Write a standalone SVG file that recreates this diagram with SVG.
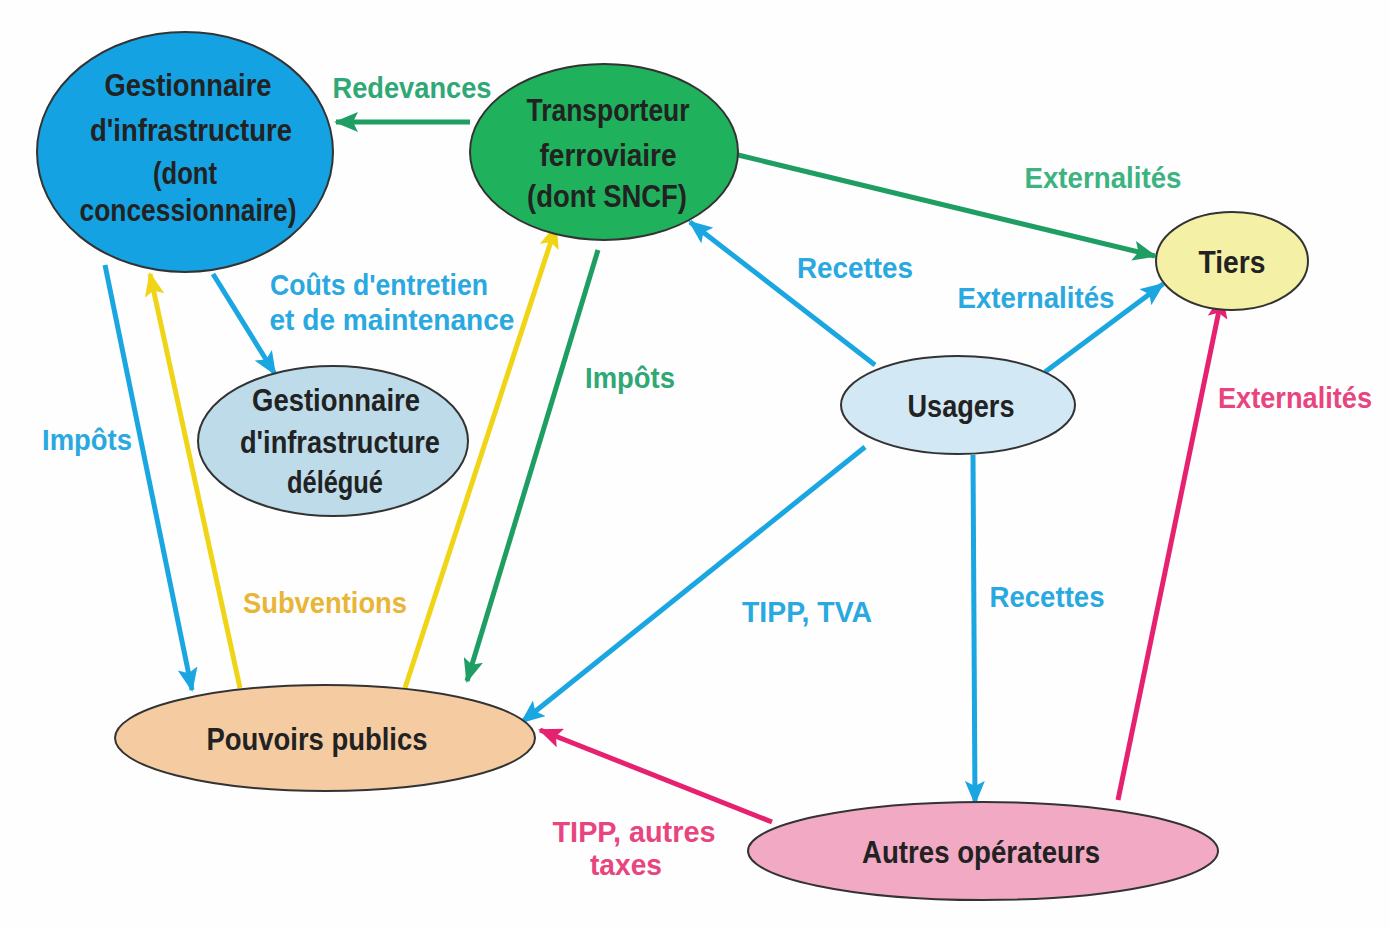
<svg xmlns="http://www.w3.org/2000/svg" width="1389" height="929" viewBox="0 0 1389 929">
<style>
.node{stroke:#333;stroke-width:2}
.nt{font-family:"Liberation Sans",Arial,sans-serif;font-weight:bold;font-size:32px;fill:#222;text-anchor:middle}
.lb{font-family:"Liberation Sans",Arial,sans-serif;font-weight:bold;font-size:30px;text-anchor:middle}
.c{fill:none;stroke-width:5}
.blue{stroke:#1aa6e0}
.green{stroke:#1e9e62}
.yellow{stroke:#f0d516}
.pink{stroke:#e62170}
</style>
<defs>
<marker id="ab" markerUnits="userSpaceOnUse" markerWidth="24" markerHeight="20" refX="22" refY="10" orient="auto"><path d="M0,0 L24,10 L0,20 L5,10 Z" fill="#1aa6e0"/></marker>
<marker id="ag" markerUnits="userSpaceOnUse" markerWidth="24" markerHeight="20" refX="22" refY="10" orient="auto"><path d="M0,0 L24,10 L0,20 L5,10 Z" fill="#1e9e62"/></marker>
<marker id="ay" markerUnits="userSpaceOnUse" markerWidth="24" markerHeight="20" refX="22" refY="10" orient="auto"><path d="M0,0 L24,10 L0,20 L5,10 Z" fill="#f0d516"/></marker>
<marker id="ap" markerUnits="userSpaceOnUse" markerWidth="24" markerHeight="20" refX="22" refY="10" orient="auto"><path d="M0,0 L24,10 L0,20 L5,10 Z" fill="#e62170"/></marker>
</defs>
<rect width="1389" height="929" fill="#fefefe"/>
<g id="connectors">
<line class="c green" x1="470" y1="122" x2="336" y2="122" marker-end="url(#ag)"/>
<line class="c green" x1="738" y1="155" x2="1155" y2="256" marker-end="url(#ag)"/>
<line class="c blue" x1="875" y1="365" x2="690" y2="222" marker-end="url(#ab)"/>
<line class="c blue" x1="1045" y1="372" x2="1163" y2="284" marker-end="url(#ab)"/>
<line class="c pink" x1="1118" y1="800" x2="1222" y2="296" marker-end="url(#ap)"/>
<line class="c blue" x1="973" y1="455" x2="975" y2="803" marker-end="url(#ab)"/>
<line class="c blue" x1="865" y1="447" x2="522" y2="722" marker-end="url(#ab)"/>
<line class="c pink" x1="772" y1="822" x2="540" y2="730" marker-end="url(#ap)"/>
<line class="c green" x1="598" y1="250" x2="467" y2="681" marker-end="url(#ag)"/>
<line class="c yellow" x1="405" y1="688" x2="556" y2="226" marker-end="url(#ay)"/>
<line class="c yellow" x1="240" y1="688" x2="150" y2="274" marker-end="url(#ay)"/>
<line class="c blue" x1="105" y1="265" x2="192" y2="690" marker-end="url(#ab)"/>
<line class="c blue" x1="213" y1="274" x2="275" y2="374" marker-end="url(#ab)"/>
</g>
<g id="labels">
<text class="lb" x="412" y="98" fill="#2fa875" textLength="159" lengthAdjust="spacingAndGlyphs">Redevances</text>
<text class="lb" x="1103" y="188" fill="#3cb380" textLength="157" lengthAdjust="spacingAndGlyphs">Externalités</text>
<text class="lb" x="855" y="278" fill="#2aa8e0" textLength="116" lengthAdjust="spacingAndGlyphs">Recettes</text>
<text class="lb" x="1036" y="308" fill="#2aa8e0" textLength="157" lengthAdjust="spacingAndGlyphs">Externalités</text>
<text class="lb" x="1295" y="408" fill="#e8457f" textLength="154" lengthAdjust="spacingAndGlyphs">Externalités</text>
<text class="lb" x="1047" y="607" fill="#2aa8e0" textLength="115" lengthAdjust="spacingAndGlyphs">Recettes</text>
<text class="lb" x="807" y="622" fill="#2aa8e0" textLength="130" lengthAdjust="spacingAndGlyphs">TIPP, TVA</text>
<text class="lb" x="634" y="842" fill="#e8457f" textLength="163" lengthAdjust="spacingAndGlyphs">TIPP, autres</text>
<text class="lb" x="626" y="875" fill="#e8457f" textLength="72" lengthAdjust="spacingAndGlyphs">taxes</text>
<text class="lb" x="630" y="388" fill="#2fa875" textLength="90" lengthAdjust="spacingAndGlyphs">Impôts</text>
<text class="lb" x="325" y="613" fill="#e8b536" textLength="164" lengthAdjust="spacingAndGlyphs">Subventions</text>
<text class="lb" x="87" y="450" fill="#2aa8e0" textLength="90" lengthAdjust="spacingAndGlyphs">Impôts</text>
<text class="lb" x="379" y="295" fill="#2aa8e0" textLength="218" lengthAdjust="spacingAndGlyphs">Coûts d'entretien</text>
<text class="lb" x="392" y="330" fill="#2aa8e0" textLength="245" lengthAdjust="spacingAndGlyphs">et de maintenance</text>
</g>
<g id="gestionnaire">
<ellipse class="node" cx="185" cy="152" rx="148" ry="120" fill="#14a2e2"/>
<text class="nt" x="188" y="96" textLength="167" lengthAdjust="spacingAndGlyphs">Gestionnaire</text>
<text class="nt" x="191" y="141" textLength="202" lengthAdjust="spacingAndGlyphs">d'infrastructure</text>
<text class="nt" x="185" y="184" textLength="64" lengthAdjust="spacingAndGlyphs">(dont</text>
<text class="nt" x="188" y="221" textLength="217" lengthAdjust="spacingAndGlyphs">concessionnaire)</text>
</g>
<g id="transporteur">
<ellipse class="node" cx="604" cy="152" rx="134" ry="88" fill="#20b15c"/>
<text class="nt" x="608" y="121" textLength="163" lengthAdjust="spacingAndGlyphs">Transporteur</text>
<text class="nt" x="608" y="166" textLength="137" lengthAdjust="spacingAndGlyphs">ferroviaire</text>
<text class="nt" x="607" y="207" textLength="160" lengthAdjust="spacingAndGlyphs">(dont SNCF)</text>
</g>
<g id="tiers">
<ellipse class="node" cx="1232" cy="261" rx="76" ry="49" fill="#f4f0a6"/>
<text class="nt" x="1232" y="273" textLength="67" lengthAdjust="spacingAndGlyphs">Tiers</text>
</g>
<g id="delegue">
<ellipse class="node" cx="333" cy="441" rx="135" ry="75" fill="#bddbe9"/>
<text class="nt" x="336" y="411" textLength="168" lengthAdjust="spacingAndGlyphs">Gestionnaire</text>
<text class="nt" x="340" y="453" textLength="200" lengthAdjust="spacingAndGlyphs">d'infrastructure</text>
<text class="nt" x="335" y="493" textLength="96" lengthAdjust="spacingAndGlyphs">délégué</text>
</g>
<g id="usagers">
<ellipse class="node" cx="958" cy="405" rx="117" ry="49" fill="#d2e8f4"/>
<text class="nt" x="961" y="417" textLength="107" lengthAdjust="spacingAndGlyphs">Usagers</text>
</g>
<g id="pouvoirs">
<ellipse class="node" cx="325" cy="738" rx="210" ry="53" fill="#f5cba2"/>
<text class="nt" x="317" y="750" textLength="221" lengthAdjust="spacingAndGlyphs">Pouvoirs publics</text>
</g>
<g id="autres">
<ellipse class="node" cx="983" cy="851" rx="235" ry="49" fill="#f1a9c4"/>
<text class="nt" x="981" y="863" textLength="238" lengthAdjust="spacingAndGlyphs">Autres opérateurs</text>
</g>
</svg>
